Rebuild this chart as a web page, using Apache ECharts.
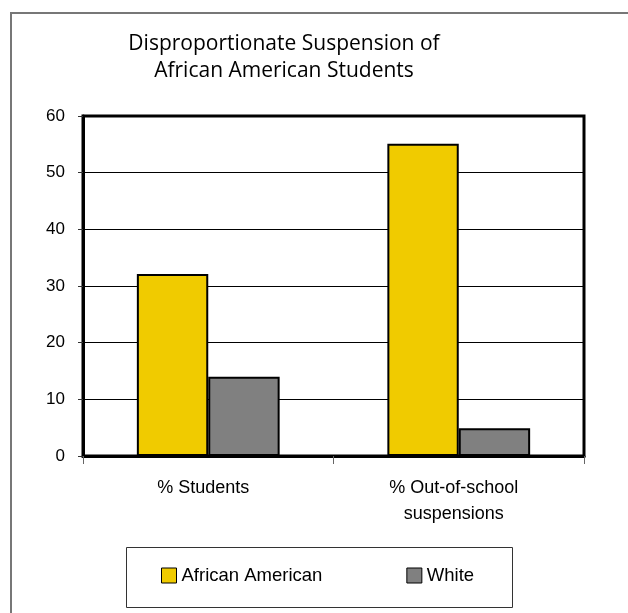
<!DOCTYPE html>
<html>
<head>
<meta charset="utf-8">
<script src="https://cdn.jsdelivr.net/npm/echarts@6/dist/echarts.min.js"></script>
<style>html,body{margin:0;padding:0;background:#fff;}#c{width:628px;height:613px;}</style>
</head>
<body>
<div id="c"></div>
<script>
const titleText = 'Disproportionate Suspension of\nAfrican American Students';
const categories = ['% Students', '% Out-of-school\nsuspensions'];
const seriesNames = ['African American', 'White'];
const africanAmerican = [32.1, 55.1];
const white = [14.0, 4.9];
const yTicks = [0, 10, 20, 30, 40, 50, 60];

const chart = echarts.init(document.getElementById('c'), null, {renderer: 'canvas'});
chart.setOption({
  backgroundColor: '#fff',
  animation: false,
  graphic: [
    {type: 'rect', shape: {x: 11, y: 13, width: 700, height: 700}, style: {fill: 'none', stroke: '#777', lineWidth: 2}, z: 0},
    {type: 'rect', shape: {x: 126.5, y: 547.5, width: 386, height: 60}, style: {fill: '#fff', stroke: '#333', lineWidth: 1}, z: 1},
    {type: 'text', x: 284, y: 31, style: {text: titleText, align: 'center', verticalAlign: 'top', fontFamily: 'Open Sans', fontSize: 21, lineHeight: 27, fill: '#000'}, z: 5}
  ],
  legend: {
    data: seriesNames,
    left: 161, top: 566, padding: 0,
    itemWidth: 15, itemHeight: 15, itemGap: 84,
    icon: 'rect',
    itemStyle: {borderColor: '#000', borderWidth: 1},
    textStyle: {fontFamily: 'Liberation Sans', fontSize: 18.5, color: '#000'},
    z: 10
  },
  grid: {left: 83, right: 44, top: 116, bottom: 157, show: true, borderColor: '#000', borderWidth: 3, containLabel: false},
  xAxis: {
    type: 'category', data: categories,
    axisLine: {show: true, lineStyle: {color: '#000', width: 3}},
    axisTick: {show: true, length: 8, lineStyle: {color: '#666', width: 1}},
    axisLabel: {fontFamily: 'Liberation Sans', fontSize: 18, color: '#000', margin: 19, lineHeight: 26, padding: [0, 10, 0, 0], interval: 0}
  },
  yAxis: {
    type: 'value', min: yTicks[0], max: yTicks[yTicks.length - 1], interval: 10,
    axisLine: {show: true, lineStyle: {color: '#000', width: 3}},
    axisTick: {show: true, length: 5, lineStyle: {color: '#333', width: 1}},
    axisLabel: {fontFamily: 'Liberation Sans', fontSize: 17, color: '#000', margin: 18},
    splitLine: {show: true, lineStyle: {color: '#000', width: 1}}
  },
  series: [
    {name: seriesNames[0], type: 'bar', data: africanAmerican, barGap: '0%', barCategoryGap: '43%',
     itemStyle: {color: '#F0CB00', borderColor: '#000', borderWidth: 2}},
    {name: seriesNames[1], type: 'bar', data: white,
     itemStyle: {color: '#808080', borderColor: '#000', borderWidth: 2}}
  ]
});
</script>
</body>
</html>
